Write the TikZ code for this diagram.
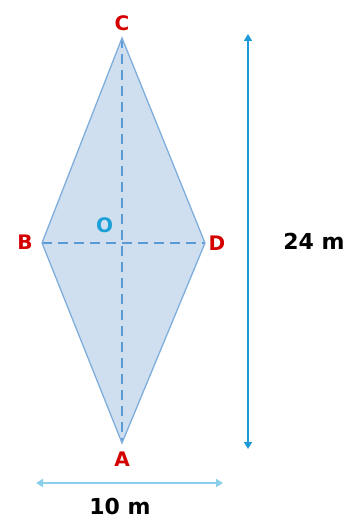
\documentclass[tikz,border=0pt]{standalone}
\usepackage{fontspec}
\setmainfont{DejaVu Sans}
\usetikzlibrary{arrows.meta}
\definecolor{fillb}{HTML}{CFDFF0}
\definecolor{edgeb}{HTML}{7FAEDC}
\definecolor{dashb}{HTML}{5B9BD5}
\definecolor{ored}{HTML}{D40000}
\definecolor{ocyan}{HTML}{1BA1D8}
\definecolor{arrv}{HTML}{1A9AD6}
\definecolor{arrh}{HTML}{8ACFEA}
\tikzset{
  vlabel/.style={font=\fontsize{20}{24}\selectfont\bfseries, text=ored, inner sep=0pt},
  dimlabel/.style={font=\fontsize{22}{26}\selectfont\bfseries, text=black, inner sep=0pt},
  diag/.style={draw=dashb, dashed, dash pattern=on 10pt off 6pt, line width=1.4pt},
  dim/.style={line width=1.8pt, {Triangle[width=8pt,length=7pt]}-{Triangle[width=8pt,length=7pt]}}
}
\begin{document}
\begin{tikzpicture}[x=1pt,y=-1pt]
\useasboundingbox (0,0) rectangle (351,521);
\coordinate (C) at (122,38);
\coordinate (B) at (42,243);
\coordinate (D) at (205,243);
\coordinate (A) at (122,443);
\fill[fillb] (C) -- (D) -- (A) -- (B) -- cycle;
\draw[diag] (C) -- (A);
\draw[diag] (B) -- (D);
\draw[edgeb, line width=1.3pt, line join=miter] (C) -- (D) -- (A) -- (B) -- cycle;
\node[vlabel] (lC) at (122,23) {C};
\node[vlabel] (lB) at (25,242) {B};
\node[vlabel] (lD) at (217,243) {D};
\node[vlabel] (lA) at (122,459) {A};
\node[vlabel, text=ocyan] (lO) at (104.5,225.5) {O};
\coordinate (vt) at (248,34);
\coordinate (vb) at (248,449);
\draw[dim, arrv] (vt) -- (vb);
\coordinate (hl) at (36,483);
\coordinate (hr) at (223,483);
\draw[dim, arrh] (hl) -- (hr);
\node[dimlabel] (l24) at (314,241) {24 m};
\node[dimlabel] (l10) at (120,506) {10 m};
\end{tikzpicture}
\end{document}
